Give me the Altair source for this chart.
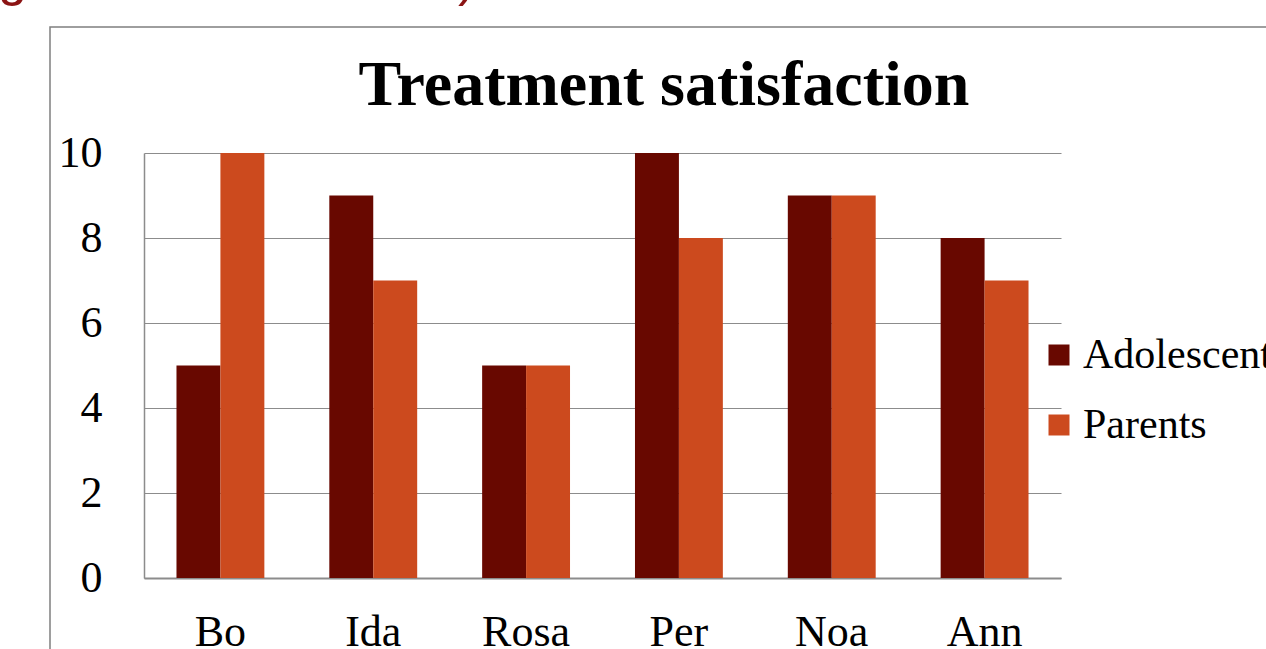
import altair as alt
import pandas as pd

names = ["Bo", "Ida", "Rosa", "Per", "Noa", "Ann"]
adolescent = [5, 9, 5, 10, 9, 8]
parents = [10, 7, 5, 8, 9, 7]
series = ["Adolescent", "Parents"]
colors = ["#680800", "#CC4A1E"]
y_ticks = [0, 2, 4, 6, 8, 10]
title_text = "Treatment satisfaction"

rows = []
for n, a, p in zip(names, adolescent, parents):
    rows.append({"name": n, "group": series[0], "value": a})
    rows.append({"name": n, "group": series[1], "value": p})
df = pd.DataFrame(rows)

FONT = "Liberation Serif"
W, H = 917, 425
PL, PT = 144, 153
GRID = "#8c8c8c"

bars = alt.Chart(df).mark_bar(strokeWidth=0).encode(
    x=alt.X(
        "name:N", sort=names,
        scale=alt.Scale(paddingInner=0.425, paddingOuter=0.2125),
        axis=alt.Axis(title=None, labelAngle=0, labelFont=FONT, labelFontSize=44,
                      labelColor="black", labelPadding=32, ticks=False,
                      domainColor=GRID, domainWidth=2, grid=False),
    ),
    xOffset=alt.XOffset("group:N", sort=series,
                        scale=alt.Scale(paddingInner=0, paddingOuter=0)),
    y=alt.Y(
        "value:Q", scale=alt.Scale(domain=[0, 10], nice=False),
        axis=alt.Axis(values=y_ticks, title=None, labelFont=FONT, labelFontSize=44,
                      labelColor="black", labelPadding=42, ticks=False,
                      domainColor=GRID, domainWidth=1.5, grid=True,
                      gridColor=GRID, gridWidth=1.2),
    ),
    color=alt.Color(
        "group:N",
        scale=alt.Scale(domain=series, range=colors),
        legend=alt.Legend(title=None, orient="none", legendX=894, legendY=181,
                          symbolType="square", symbolSize=441, symbolStrokeWidth=0,
                          labelFont=FONT, labelFontSize=42, labelColor="black",
                          labelOffset=3, rowPadding=28, padding=0, labelLimit=400),
    ),
)

one = pd.DataFrame({"k": [0]})

frame = alt.Chart(one).mark_rect(fill=None, stroke="#7f7f7f", strokeWidth=1.5).encode(
    x=alt.value(50 - PL), x2=alt.value(1266 - PL + 20),
    y=alt.value(27 - PT), y2=alt.value(649 - PT + 20),
)

title = alt.Chart(one).mark_text(
    text=title_text, font=FONT, fontSize=64, fontWeight="bold",
    color="black", align="center", baseline="alphabetic",
).encode(x=alt.value(664 - PL), y=alt.value(105 - PT))

deco1 = alt.Chart(one).mark_text(
    text="g", font="Liberation Sans", fontSize=52, color="#8B1414",
    align="left", baseline="alphabetic",
).encode(x=alt.value(-2 - PL), y=alt.value(-5 - PT))

deco2 = alt.Chart(one).mark_text(
    text=")", font="Liberation Sans", fontSize=52, color="#8B1414",
    align="left", baseline="alphabetic",
).encode(x=alt.value(458 - PL), y=alt.value(-5 - PT))

chart = alt.layer(frame, title, deco1, deco2, bars).properties(
    width=W, height=H,
    autosize=alt.AutoSizeParams(type="none"),
    padding={"left": PL, "top": PT, "right": 1266 - PL - W, "bottom": 649 - PT - H},
    background="white",
).configure_view(stroke=None)

chart.save("out.html", embed_options={"renderer": "svg", "actions": False})
